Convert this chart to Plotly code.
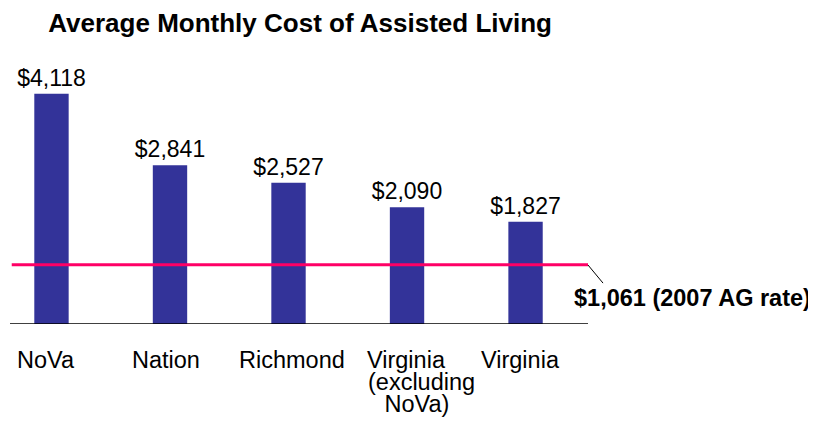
import plotly.graph_objects as go

categories = ["NoVa", "Nation", "Richmond", "Virginia (excluding NoVa)", "Virginia"]
label_lines = [["NoVa"], ["Nation"], ["Richmond"], ["Virginia", "(excluding", " NoVa)"], ["Virginia"]]
values = [4118, 2841, 2527, 2090, 1827]
ag_rate = 1061
ag_label = "$1,061 (2007 AG rate)"
title = "Average Monthly Cost of Assisted Living"

FONT = "Liberation Sans, Arial, sans-serif"
BAR = "#333399"
PINK = "#FF0066"

W, H = 816, 424
ml, mr, mt, mb = 2, 236, 32, 108
x_idx = list(range(len(categories)))

fig = go.Figure()
fig.add_trace(go.Bar(
    x=x_idx, y=values, width=0.29,
    marker=dict(color=BAR, line=dict(width=0)),
    texttemplate="$%{y:,}", textposition="outside", constraintext="none",
    textfont=dict(family=FONT, size=23, color="black"),
    cliponaxis=False, hoverinfo="skip",
))

# AG rate line
fig.add_shape(type="line", xref="paper", yref="y", x0=0.003, x1=1.0, y0=ag_rate, y1=ag_rate,
              line=dict(color=PINK, width=3))
# baseline
fig.add_shape(type="line", xref="paper", yref="y", x0=0, x1=1.0, y0=0, y1=0,
              line=dict(color="black", width=1.5))
# leader line
fig.add_shape(type="line", xref="paper", yref="paper", x0=1.0, y0=0.2077, x1=1.026, y1=0.144,
              line=dict(color="black", width=1))

fig.add_annotation(text="<b>" + ag_label + "</b>", xref="paper", yref="paper",
                   x=0.972, y=0.0915, xanchor="left", yanchor="middle", showarrow=False,
                   font=dict(family=FONT, size=23.5, color="black"))

# category labels
shifts = [-5, -4, 3, -10, -5]
for i, lines in enumerate(label_lines):
    for j, line in enumerate(lines):
        xs = shifts[i]
        if len(lines) > 1:
            xs = [-1, 14, 6][j]
        fig.add_annotation(text=line, x=i, xref="x", yref="paper",
                           y=-0.128 - j * 0.0762, xshift=xs,
                           xanchor="center", yanchor="middle", showarrow=False,
                           font=dict(family=FONT, size=23.5, color="black"))

fig.update_layout(
    width=W, height=H,
    margin=dict(l=ml, r=mr, t=mt, b=mb),
    paper_bgcolor="white", plot_bgcolor="white",
    showlegend=False,
    title=dict(text="<b>" + title + "</b>", x=0.358, xanchor="center", y=0.965, yanchor="middle",
               xref="container", yref="container",
               font=dict(family=FONT, size=26, color="black")),
    xaxis=dict(range=[-0.350, 4.527], showticklabels=False, showgrid=False, zeroline=False,
               showline=False, ticks=""),
    yaxis=dict(range=[0, 5080], showticklabels=False, showgrid=False, zeroline=False,
               showline=False, ticks=""),
)

fig.write_html("out.html")
